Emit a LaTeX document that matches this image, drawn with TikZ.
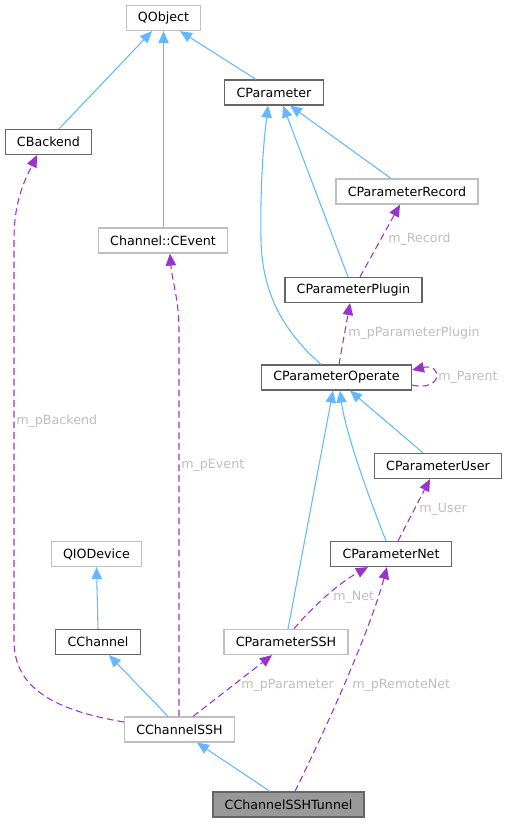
\documentclass[tikz,border=0pt]{standalone}
\usepackage{fontspec}
\setmainfont{DejaVu Sans}
\usepackage{tikz}
\usetikzlibrary{arrows.meta,calc}
\definecolor{inherit}{RGB}{99,184,255}
\definecolor{member}{RGB}{154,50,205}
\definecolor{boxdark}{RGB}{102,102,102}
\definecolor{boxlight}{RGB}{191,191,191}
\definecolor{current}{RGB}{153,153,153}
\definecolor{labelgray}{RGB}{190,190,190}

\begin{document}
\begin{tikzpicture}[x=0.75pt,y=-0.75pt,
    font=\fontsize{9.5}{11}\selectfont,
    cls/.style={draw=boxdark, line width=0.9pt, fill=white, minimum height=18.75pt, inner xsep=8.8pt, inner ysep=0pt},
    ext/.style={cls, draw=boxlight},
    cur/.style={cls, fill=current},
    base/.style={draw=inherit, line width=0.8pt, -{Triangle[length=9pt,width=7.8pt]}},
    uses/.style={draw=member, line width=0.8pt, dash pattern=on 5pt off 3pt, -{Triangle[length=9pt,width=7.8pt]}},
    lbl/.style={text=labelgray, anchor=west, inner sep=0pt}]
    %% Background
    \useasboundingbox (0,0) rectangle (507,823);
    %% Classes
    \node[ext] (qobject) at (163.5,18) {QObject};
    \node[cls] (param) at (274,92.5) {CParameter};
    \node[cls] (backend) at (48.5,142) {CBackend};
    \node[ext] (record) at (407,191.5) {CParameterRecord};
    \node[ext] (event) at (163,240.5) {Channel::CEvent};
    \node[cls] (plugin) at (353.5,290) {CParameterPlugin};
    \node[cls] (operate) at (336.5,377.5) {CParameterOperate};
    \node[cls] (user) at (438,466) {CParameterUser};
    \node[cls] (net) at (391,554) {CParameterNet};
    \node[ext] (qiodev) at (96.5,554) {QIODevice};
    \node[cls] (channel) at (98,642) {CChannel};
    \node[ext] (paramssh) at (286,642) {CParameterSSH};
    \node[ext] (chssh) at (179.5,729.5) {CChannelSSH};
    \node[cur] (tunnel) at (288.5,804.5) {CChannelSSHTunnel};
    %% Inheritance
    \draw[base] ($(backend.north)+(10.5,0)$) -- ($(qobject.south)+(-11.5,0)$);
    \draw[base] ($(event.north)+(0.5,0)$) -- (qobject.south);
    \draw[base] ($(param.north)+(-18,0)$) -- ($(qobject.south)+(16.5,0)$);
    \draw[base] ($(operate.north)+(-15.5,0)$) .. controls (290,337) and (262,300) .. (261,240)
        .. controls (260,180) and (264,140) .. ($(param.south)+(-6,0)$);
    \draw[base] ($(plugin.north)+(-5.5,0)$) -- ($(param.south)+(9,0)$);
    \draw[base] ($(record.north)+(-16,0)$) -- ($(param.south)+(16,0)$);
    \draw[base] ($(user.north)+(-15,0)$) -- ($(operate.south)+(13.5,0)$);
    \draw[base] ($(net.north)+(-5,0)$) .. controls (366,490) and (345,430) .. ($(operate.south)+(3.5,0)$);
    \draw[base] ($(paramssh.north)+(2,0)$) -- ($(operate.south)+(-3.5,0)$);
    \draw[base] (channel.north) -- (qiodev.south);
    \draw[base] ($(chssh.north)+(-11.5,0)$) -- ($(channel.south)+(11,0)$);
    \draw[base] ($(tunnel.north)+(-18.5,0)$) -- ($(chssh.south)+(17.5,0)$);
    %% Members
    \draw[uses] ($(plugin.north)+(6.5,0)$) -- ($(record.south)+(-7,0)$);
    \draw[uses] ($(operate.north)+(2.5,0)$) -- ($(plugin.south)+(-3.5,0)$);
    \draw[uses] ($(operate.east)+(0,7.5)$) .. controls (443,392) and (443,363) .. ($(operate.east)+(0,-7.5)$);
    \draw[uses] ($(net.north)+(7,0)$) -- ($(user.south)+(-8,0)$);
    \draw[uses] ($(paramssh.north)+(8,0)$) .. controls (305,615) and (335,585) .. ($(net.south)+(-23,0)$);
    \draw[uses] ($(tunnel.north)+(6.5,0)$) .. controls (330,720) and (370,630) .. ($(net.south)+(-4,0)$);
    \draw[uses] ($(chssh.north)+(13.5,0)$) -- ($(paramssh.south)+(-14,0)$);
    \draw[uses] ($(chssh.west)+(0,-7.5)$) .. controls (40,708) and (14,680) .. (14,640) -- (14,240)
        .. controls (14,200) and (25,180) .. ($(backend.south)+(-11.5,0)$);
    \draw[uses] ($(chssh.north)+(-0.5,0)$) -- (179,330)
        .. controls (179,300) and (172,280) .. ($(event.south)+(7,0)$);
    %% Labels
    \node[lbl] (lrecord) at (388,239) {m\_Record};
    \node[lbl] (lplugin) at (348,333) {m\_pParameterPlugin};
    \node[lbl] (lparent) at (438,377) {m\_Parent};
    \node[lbl] (lbackend) at (16,421) {m\_pBackend};
    \node[lbl] (levent) at (181,465) {m\_pEvent};
    \node[lbl] (luser) at (419,509) {m\_User};
    \node[lbl] (lnet) at (333,597) {m\_Net};
    \node[lbl] (lparameter) at (241,685) {m\_pParameter};
    \node[lbl] (lremote) at (352,685) {m\_pRemoteNet};
\end{tikzpicture}
\end{document}
